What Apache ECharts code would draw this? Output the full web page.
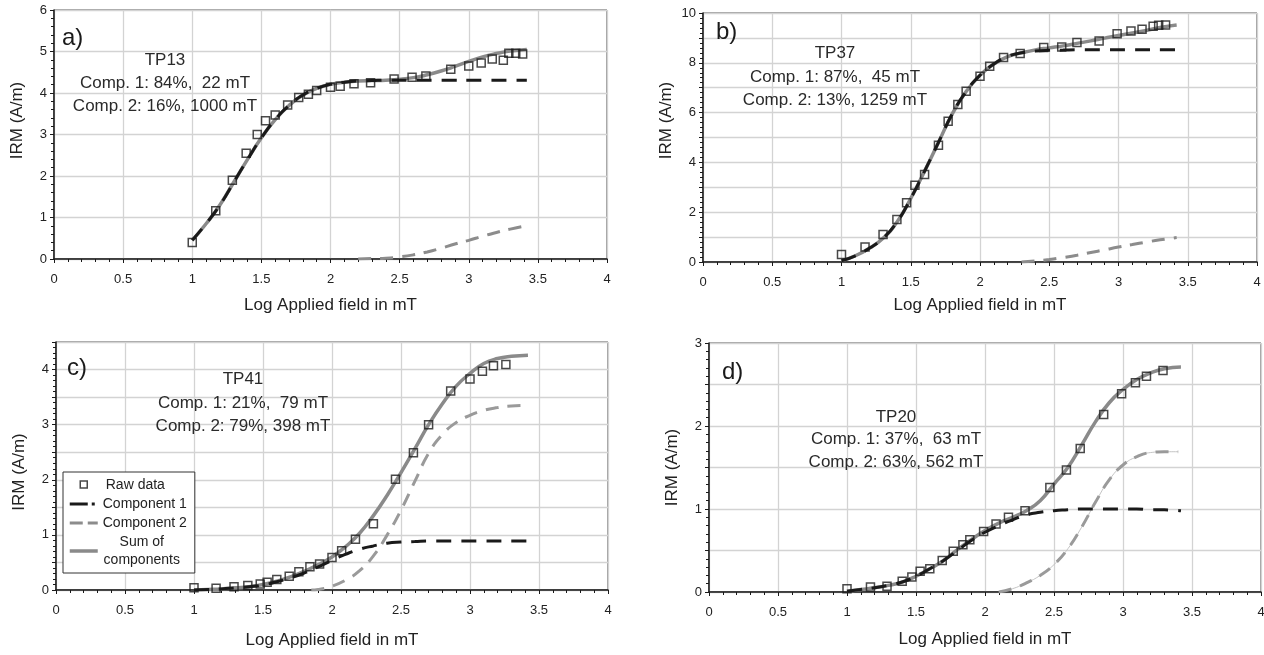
<!DOCTYPE html>
<html>
<head>
<meta charset="utf-8">
<script src="https://cdn.jsdelivr.net/npm/echarts@6/dist/echarts.min.js"></script>
<style>
  html, body { margin: 0; padding: 0; background: #fff; }
  #chart { width: 1264px; height: 655px; }
</style>
</head>
<body>
<div id="chart"></div>
<script>
// ---- IRM acquisition data (x = log10 of applied field in mT, y = IRM in A/m) ----

// field steps of the fitted curves
const fitX = [1.0, 1.1, 1.2, 1.3, 1.4, 1.5, 1.6, 1.7, 1.8, 1.9, 2.0, 2.1, 2.2, 2.3, 2.4, 2.5, 2.6, 2.7, 2.8, 2.9, 3.0, 3.1, 3.2, 3.3, 3.42];

// a) TP13
const rawXA = [1.00, 1.17, 1.29, 1.39, 1.47, 1.53, 1.60, 1.69, 1.77, 1.84, 1.90, 2.00, 2.07, 2.17, 2.29, 2.46, 2.59, 2.69, 2.87, 3.00, 3.09, 3.17, 3.25, 3.29, 3.34, 3.39];
const rawYA = [0.40, 1.16, 1.90, 2.55, 3.00, 3.33, 3.47, 3.71, 3.89, 3.97, 4.06, 4.14, 4.16, 4.22, 4.25, 4.34, 4.38, 4.41, 4.57, 4.65, 4.72, 4.82, 4.79, 4.96, 4.96, 4.94];
const sumA   = [0.45, 0.85, 1.30, 1.85, 2.40, 2.92, 3.36, 3.70, 3.95, 4.11, 4.21, 4.26, 4.29, 4.30, 4.31, 4.33, 4.37, 4.44, 4.53, 4.64, 4.76, 4.87, 4.95, 5.01, 5.05];
const comp1A = [0.45, 0.85, 1.30, 1.85, 2.40, 2.92, 3.36, 3.70, 3.95, 4.11, 4.21, 4.26, 4.29, 4.30, 4.31, 4.31, 4.31, 4.31, 4.31, 4.31, 4.31, 4.31, 4.31, 4.31, 4.31];
const comp2XA = [2.2, 2.3, 2.4, 2.5, 2.6, 2.7, 2.8, 2.9, 3.0, 3.1, 3.2, 3.3, 3.42];
const comp2A  = [0.00, 0.01, 0.02, 0.05, 0.10, 0.17, 0.26, 0.36, 0.45, 0.55, 0.64, 0.72, 0.80];

// b) TP37
const rawXB = [1.00, 1.17, 1.30, 1.40, 1.47, 1.53, 1.60, 1.70, 1.77, 1.84, 1.90, 2.00, 2.07, 2.17, 2.29, 2.46, 2.59, 2.70, 2.86, 2.99, 3.09, 3.17, 3.25, 3.29, 3.34];
const rawYB = [0.30, 0.60, 1.10, 1.71, 2.38, 3.08, 3.51, 4.69, 5.65, 6.33, 6.86, 7.46, 7.86, 8.21, 8.37, 8.61, 8.63, 8.82, 8.88, 9.17, 9.28, 9.35, 9.47, 9.51, 9.52];
const sumB   = [0.05, 0.25, 0.55, 0.95, 1.60, 2.55, 3.65, 4.80, 5.95, 6.85, 7.50, 7.95, 8.25, 8.40, 8.52, 8.60, 8.68, 8.78, 8.88, 8.99, 9.10, 9.20, 9.30, 9.42, 9.52];
const comp1B = [0.05, 0.25, 0.55, 0.95, 1.60, 2.55, 3.65, 4.80, 5.95, 6.85, 7.50, 7.95, 8.25, 8.40, 8.47, 8.50, 8.51, 8.52, 8.52, 8.52, 8.52, 8.52, 8.52, 8.52, 8.52];
const comp2XB = [2.3, 2.4, 2.5, 2.6, 2.7, 2.8, 2.9, 3.0, 3.1, 3.2, 3.3, 3.42];
const comp2B  = [0.00, 0.04, 0.10, 0.18, 0.27, 0.38, 0.49, 0.60, 0.70, 0.80, 0.89, 0.98];

// c) TP41
const rawXC = [1.00, 1.16, 1.29, 1.39, 1.48, 1.53, 1.60, 1.69, 1.76, 1.84, 1.91, 2.00, 2.07, 2.17, 2.30, 2.46, 2.59, 2.70, 2.86, 3.00, 3.09, 3.17, 3.26];
const rawYC = [0.04, 0.03, 0.06, 0.08, 0.11, 0.14, 0.19, 0.25, 0.33, 0.42, 0.47, 0.59, 0.71, 0.92, 1.20, 2.01, 2.49, 3.00, 3.61, 3.83, 3.97, 4.07, 4.09];
const sumC   = [0.00, 0.01, 0.02, 0.04, 0.06, 0.10, 0.16, 0.24, 0.34, 0.46, 0.60, 0.79, 1.03, 1.35, 1.72, 2.13, 2.56, 3.00, 3.38, 3.70, 3.93, 4.11, 4.20, 4.24, 4.26];
const comp1C = [0.00, 0.01, 0.02, 0.04, 0.06, 0.09, 0.15, 0.22, 0.31, 0.42, 0.54, 0.65, 0.74, 0.80, 0.85, 0.87, 0.88, 0.89, 0.89, 0.89, 0.89, 0.89, 0.89, 0.89, 0.89];
const comp2XC = [1.85, 1.9, 2.0, 2.1, 2.2, 2.3, 2.4, 2.5, 2.6, 2.7, 2.8, 2.9, 3.0, 3.1, 3.2, 3.3, 3.42];
const comp2C  = [0.00, 0.01, 0.07, 0.18, 0.35, 0.62, 1.00, 1.45, 1.97, 2.48, 2.82, 3.04, 3.17, 3.26, 3.31, 3.34, 3.35];

// d) TP20
const rawXD = [1.00, 1.17, 1.29, 1.40, 1.47, 1.53, 1.60, 1.69, 1.77, 1.84, 1.89, 1.99, 2.08, 2.17, 2.29, 2.47, 2.59, 2.69, 2.86, 2.99, 3.09, 3.17, 3.29];
const rawYD = [0.04, 0.06, 0.07, 0.13, 0.18, 0.25, 0.28, 0.38, 0.49, 0.57, 0.63, 0.73, 0.82, 0.90, 0.98, 1.26, 1.47, 1.73, 2.14, 2.39, 2.52, 2.60, 2.67];
const sumD   = [0.01, 0.03, 0.05, 0.08, 0.12, 0.19, 0.28, 0.38, 0.51, 0.63, 0.74, 0.83, 0.90, 0.98, 1.10, 1.30, 1.50, 1.77, 2.05, 2.28, 2.44, 2.56, 2.64, 2.69, 2.71];
const comp1D = [0.01, 0.03, 0.05, 0.08, 0.12, 0.19, 0.28, 0.38, 0.50, 0.62, 0.72, 0.80, 0.87, 0.93, 0.96, 0.98, 0.99, 1.00, 1.00, 1.00, 1.00, 1.00, 0.99, 0.99, 0.98];
const comp2XD = [2.1, 2.2, 2.3, 2.4, 2.5, 2.6, 2.7, 2.8, 2.9, 3.0, 3.1, 3.2, 3.3, 3.4];
const comp2D  = [0.00, 0.04, 0.11, 0.20, 0.33, 0.52, 0.78, 1.08, 1.35, 1.53, 1.63, 1.68, 1.69, 1.69];

// axis ticks
const xTicks = { min: 0, max: 4, step: 0.5 };
const yTicksA = { min: 0, max: 6, step: 1, labelEvery: 1 };
const yTicksB = { min: 0, max: 10, step: 1, labelEvery: 2 };
const yTicksC = { min: 0, max: 4.5, step: 0.5, labelEvery: 1 };
const yTicksD = { min: 0, max: 3, step: 0.5, labelEvery: 1 };

// sample annotations
const notesA = ['TP13', 'Comp. 1: 84%,  22 mT', 'Comp. 2: 16%, 1000 mT'];
const notesB = ['TP37', 'Comp. 1: 87%,  45 mT', 'Comp. 2: 13%, 1259 mT'];
const notesC = ['TP41', 'Comp. 1: 21%,  79 mT', 'Comp. 2: 79%, 398 mT'];
const notesD = ['TP20', 'Comp. 1: 37%,  63 mT', 'Comp. 2: 63%, 562 mT'];

const legendNames = ['Raw data', 'Component 1', 'Component 2', 'Sum of components'];

// ---- layout & styling ----
const FONT = "'Liberation Sans', Arial, Helvetica, sans-serif";
const INK = '#1a1a1a';
const TEXT = '#222';
const SUM_GRAY = '#8a8a8a';

const pairs = (xs, ys) => xs.map((x, i) => [x, ys[i]]);

const panels = [
  { tag: 'a)', grid: { left: 54, top: 10, width: 553, height: 249 }, y: yTicksA,
    raw: [rawXA, rawYA], sum: sumA, c1: comp1A, c2: [comp2XA, comp2A], notes: notesA,
    noteX: 165, noteY: [60, 83, 106], tagPos: [62, 38], nameShift: 14, xNameGap: 38, c2Color: '#8c8c8c', c2Thin: false },
  { tag: 'b)', grid: { left: 703, top: 13, width: 554, height: 249 }, y: yTicksB,
    raw: [rawXB, rawYB], sum: sumB, c1: comp1B, c2: [comp2XB, comp2B], notes: notesB,
    noteX: 835, noteY: [53, 77, 100], tagPos: [716, 32], nameShift: 17, xNameGap: 35, c2Color: '#8c8c8c', c2Thin: false },
  { tag: 'c)', grid: { left: 56, top: 342, width: 552, height: 248 }, y: yTicksC,
    raw: [rawXC, rawYC], sum: sumC, c1: comp1C, c2: [comp2XC, comp2C], notes: notesC,
    noteX: 243, noteY: [379, 403, 426], tagPos: [67, 368], nameShift: -6, xNameGap: 42, c2Color: '#9a9a9a', c2Thin: false },
  { tag: 'd)', grid: { left: 709, top: 343, width: 552, height: 249 }, y: yTicksD,
    raw: [rawXD, rawYD], sum: sumD, c1: comp1D, c2: [comp2XD, comp2D], notes: notesD,
    noteX: 896, noteY: [417, 439, 462], tagPos: [722, 372], nameShift: 0, xNameGap: 39, c2Color: '#9a9a9a', c2Thin: true }
];

const grids = [], xAxes = [], yAxes = [], series = [], graphics = [];

panels.forEach((p, i) => {
  grids.push(Object.assign({
    show: true, borderColor: '#444', borderWidth: 1, backgroundColor: '#fff',
    containLabel: false, outerBoundsMode: 'none'
  }, p.grid));

  const tickStyle = { color: INK, width: 1 };
  xAxes.push({
    type: 'value', gridIndex: i, min: xTicks.min, max: xTicks.max, interval: xTicks.step,
    axisLine: { show: true, onZero: false, lineStyle: { color: INK, width: 1.5 } },
    axisTick: { show: true, inside: false, length: 4, lineStyle: tickStyle },
    minorTick: { show: true, splitNumber: 5, length: 3, lineStyle: tickStyle },
    splitLine: { show: true, lineStyle: { color: '#d3d3d3', width: 1.3 } },
    minorSplitLine: { show: false },
    axisLabel: { margin: 14, fontSize: 13, color: TEXT, fontFamily: FONT },
    name: 'Log Applied field in mT', nameLocation: 'middle', nameGap: p.xNameGap,
    nameTextStyle: { fontSize: 17, color: TEXT, fontFamily: FONT }
  });

  const every = p.y.labelEvery;
  const shift = p.nameShift;
  yAxes.push({
    type: 'value', gridIndex: i, min: p.y.min, max: p.y.max, interval: p.y.step,
    axisLine: { show: true, onZero: false, lineStyle: { color: INK, width: 1.5 } },
    axisTick: { show: true, inside: false, length: 4, lineStyle: tickStyle },
    minorTick: { show: true, splitNumber: 5, length: 3, lineStyle: tickStyle },
    splitLine: { show: true, lineStyle: { color: '#d3d3d3', width: 1.3 } },
    minorSplitLine: { show: false },
    axisLabel: {
      margin: 7, fontSize: 13, color: TEXT, fontFamily: FONT,
      formatter: v => (Math.abs(v / every - Math.round(v / every)) < 1e-9 ? String(v) : '')
    },
    name: 'IRM (A/m)', nameLocation: 'middle', nameGap: 28, nameRotate: 90,
    nameTextStyle: {
      fontSize: 17, color: TEXT, fontFamily: FONT,
      padding: shift >= 0 ? [0, 0, 0, 2 * shift] : [0, -2 * shift, 0, 0]
    }
  });

  const ax = { xAxisIndex: i, yAxisIndex: i };

  series.push(Object.assign({
    name: 'Sum of components', type: 'line', smooth: true, symbol: 'none', showSymbol: false,
    data: pairs(fitX, p.sum), itemStyle: { color: SUM_GRAY },
    lineStyle: { color: SUM_GRAY, width: 3.5 }, z: 2, silent: true
  }, ax));

  if (p.c2Thin) {
    series.push(Object.assign({
      name: 'Component 2 (trace)', type: 'line', smooth: true, symbol: 'none', showSymbol: false,
      data: pairs(p.c2[0], p.c2[1]), itemStyle: { color: '#c4c4c4' },
      lineStyle: { color: '#c4c4c4', width: 1 }, z: 2, silent: true
    }, ax));
  }
  series.push(Object.assign({
    name: 'Component 2', type: 'line', smooth: true, symbol: 'none', showSymbol: false,
    data: pairs(p.c2[0], p.c2[1]), itemStyle: { color: p.c2Color },
    lineStyle: { color: p.c2Color, width: 3, type: [13, 9] }, z: 3, silent: true
  }, ax));

  series.push(Object.assign({
    name: 'Component 1', type: 'line', smooth: true, symbol: 'none', showSymbol: false,
    data: pairs(fitX, p.c1), itemStyle: { color: INK },
    lineStyle: { color: INK, width: 3, type: [15, 10] }, z: 3, silent: true
  }, ax));

  series.push(Object.assign({
    name: 'Raw data', type: 'scatter', symbol: 'rect', symbolSize: 8,
    data: pairs(p.raw[0], p.raw[1]),
    itemStyle: { color: 'rgba(255,255,255,0)', borderColor: INK, borderWidth: 1.5 }, z: 4, silent: true
  }, ax));

  // panel tag
  graphics.push({
    type: 'text', x: p.tagPos[0], y: p.tagPos[1], z: 10,
    style: { text: p.tag, fill: INK, font: `24px ${FONT}`, textAlign: 'left', textVerticalAlign: 'middle' }
  });
  // sample notes
  p.notes.forEach((t, k) => {
    graphics.push({
      type: 'text', x: p.noteX, y: p.noteY[k], z: 10,
      style: { text: t, fill: '#2a2a2a', font: `17px ${FONT}`, textAlign: 'center', textVerticalAlign: 'middle' }
    });
  });
});

const hiddenSymbol = { opacity: 0, color: 'rgba(0,0,0,0)', borderWidth: 0 };
// small hollow square centred in a 28 x 9 legend icon box
const squareIcon = 'path://M0,0M28,9M10.5,0.5h7v7h-7z';

const chart = echarts.init(document.getElementById('chart'), null, { renderer: 'canvas' });
chart.setOption({
  backgroundColor: '#fff',
  animation: false,
  textStyle: { fontFamily: FONT },
  grid: grids,
  xAxis: xAxes,
  yAxis: yAxes,
  series: series,
  graphic: graphics,
  legend: {
    show: true, orient: 'vertical', left: 63, top: 472,
    backgroundColor: '#fff', borderColor: '#333', borderWidth: 1,
    padding: [6, 8, 6, 5], itemGap: 5, itemWidth: 28, itemHeight: 9,
    selectedMode: false,
    textStyle: {
      fontSize: 14, color: TEXT, fontFamily: FONT,
      rich: { c: { align: 'center', width: 78, fontSize: 14, color: TEXT, fontFamily: FONT, lineHeight: 18 } }
    },
    formatter: name => name === 'Sum of components' ? '{c|Sum of}\n{c|components}' : name,
    data: [
      { name: legendNames[0], icon: squareIcon,
        itemStyle: { color: '#fff', borderColor: INK, borderWidth: 1.5 },
        textStyle: { padding: [0, 0, 0, 3] } },
      { name: legendNames[1], itemStyle: hiddenSymbol,
        lineStyle: { color: INK, width: 3, type: [18, 4, 3, 10] } },
      { name: legendNames[2], itemStyle: hiddenSymbol,
        lineStyle: { color: '#8c8c8c', width: 3, type: [13, 5] } },
      { name: legendNames[3], itemStyle: hiddenSymbol,
        lineStyle: { color: SUM_GRAY, width: 3.5, type: 'solid' } }
    ]
  }
});
</script>
</body>
</html>
